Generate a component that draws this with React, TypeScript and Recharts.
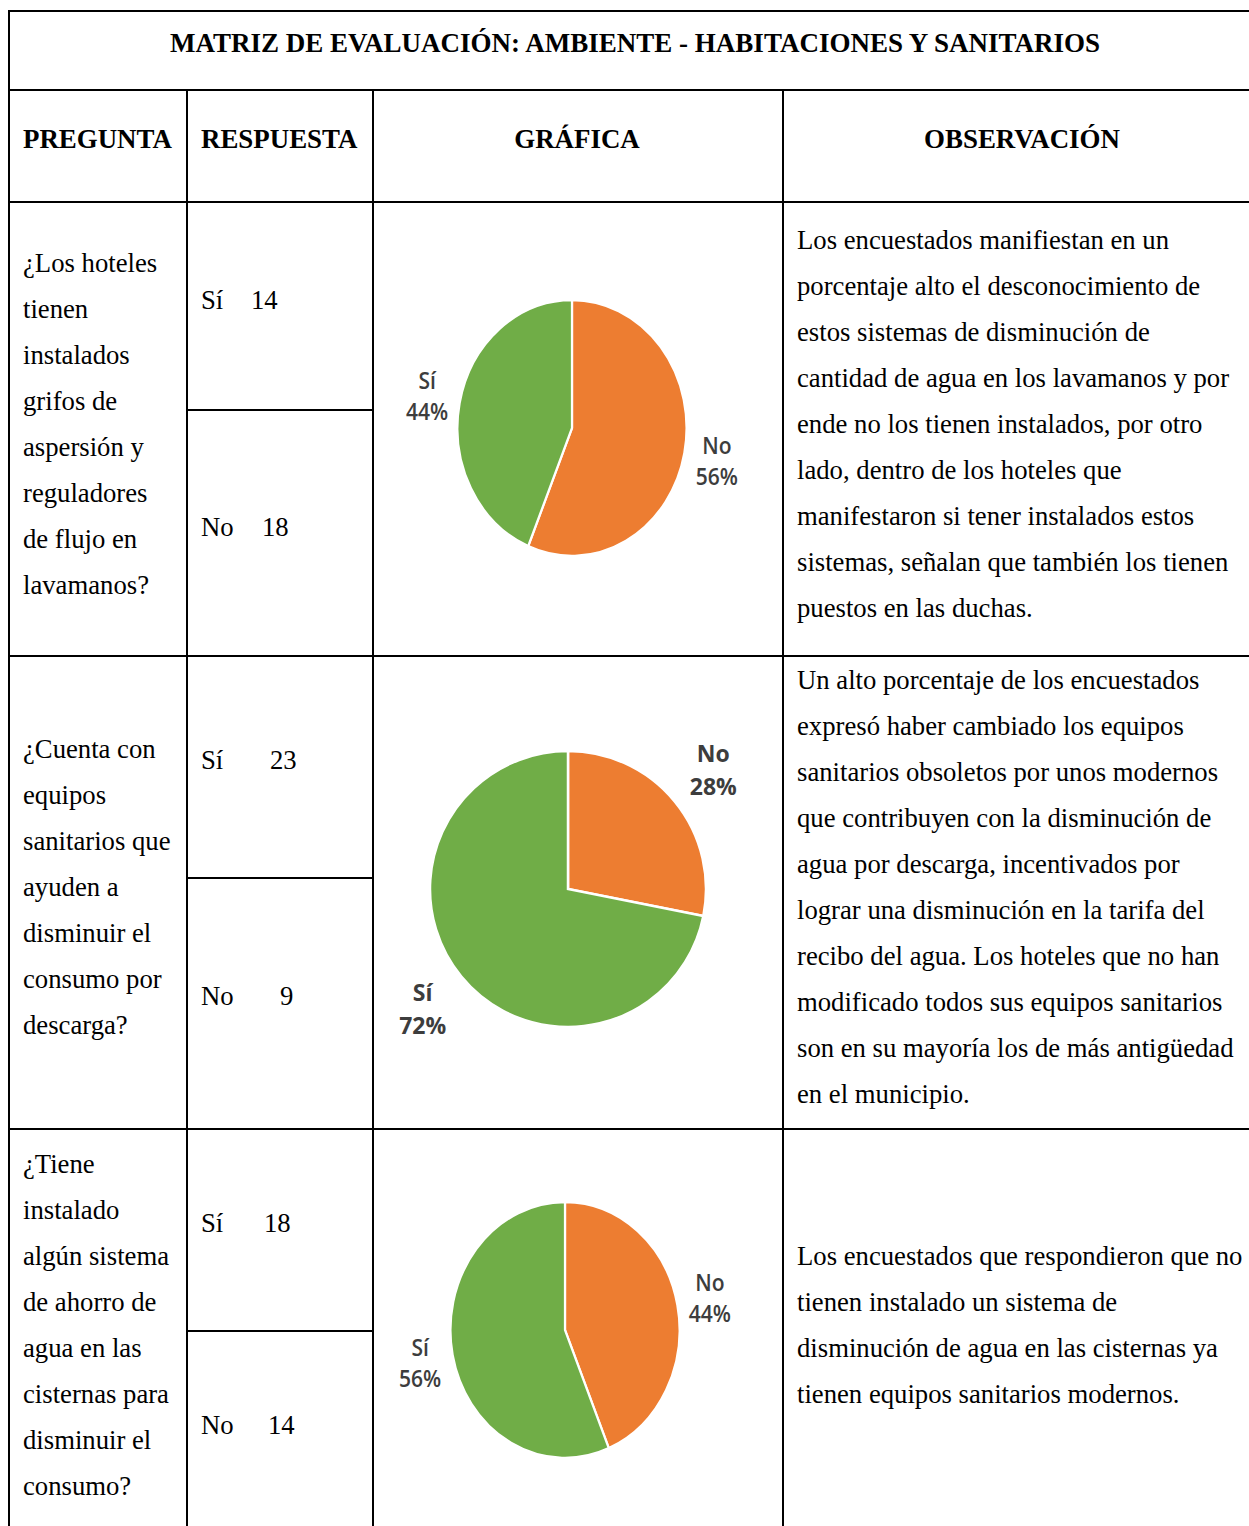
import React from "react";
import { PieChart, Pie, Cell } from "recharts";

// answers, in the order the slices are drawn (clockwise from 12 o'clock)
const answers = ["No", "Sí"];
const aguaLavamanos = [18, 14];
const equiposSanitarios = [9, 23];
const ahorroCisternas = [14, 18];
const sliceColors = ["#ED7D31", "#70AD47"];

const SERIF = '"Liberation Serif", "Times New Roman", serif';
const LABEL_FONT = '"Open Sans", "Noto Sans", sans-serif';
const LINE = 46;
const RADIAN = Math.PI / 180;

const toRows = (values: number[]) => {
  const total = values.reduce((s, v) => s + v, 0);
  return answers.map((name, i) => ({ name, value: values[i], pct: Math.round((values[i] / total) * 100) }));
};

interface LabelStyle {
  gap: number;
  fontSize: number;
  weight: number;
  spacing: number;
}

const makeLabel = (style: LabelStyle) => (props: any) => {
  const { cx, cy, midAngle, outerRadius, payload } = props;
  const r = outerRadius + style.gap;
  const x = cx + r * Math.cos(-midAngle * RADIAN);
  const y = cy + r * Math.sin(-midAngle * RADIAN);
  const common = {
    x,
    textAnchor: "middle" as const,
    dominantBaseline: "central" as const,
    fill: "#3d3d3d",
    fontSize: style.fontSize,
    fontFamily: LABEL_FONT,
    fontWeight: style.weight,
  };
  return (
    <g>
      <text {...common} y={y - style.spacing / 2}>{payload.name}</text>
      <text {...common} y={y + style.spacing / 2}>{`${payload.pct}%`}</text>
    </g>
  );
};

interface PieBoxProps {
  values: number[];
  cx: number;
  cy: number;
  radius: number;
  scaleX: number;
  label: LabelStyle;
}

function PieBox({ values, cx, cy, radius, scaleX, label }: PieBoxProps) {
  const w = 420;
  const h = 360;
  const rows = toRows(values);
  return (
    <div
      style={{
        position: "absolute",
        left: cx - w / 2,
        top: cy - h / 2,
        width: w,
        height: h,
        transform: `scaleX(${scaleX})`,
        transformOrigin: "center center",
      }}
    >
      <PieChart width={w} height={h} margin={{ top: 0, right: 0, bottom: 0, left: 0 }}>
        <Pie
          data={rows}
          dataKey="value"
          nameKey="name"
          cx="50%"
          cy="50%"
          outerRadius={radius}
          startAngle={90}
          endAngle={-270}
          stroke="#ffffff"
          strokeWidth={2.5}
          labelLine={false}
          label={makeLabel(label)}
          isAnimationActive={false}
        >
          {rows.map((r, i) => (
            <Cell key={r.name} fill={sliceColors[i]} />
          ))}
        </Pie>
      </PieChart>
    </div>
  );
}

function HLine({ y, x1, x2 }: { y: number; x1: number; x2: number }) {
  return <div style={{ position: "absolute", left: x1, top: y, width: x2 - x1, height: 2, background: "#000" }} />;
}

function VLine({ x, y1, y2 }: { x: number; y1: number; y2: number }) {
  return <div style={{ position: "absolute", left: x, top: y1, width: 2, height: y2 - y1, background: "#000" }} />;
}

interface LinesProps {
  x: number;
  y: number;
  lines: string[];
  bold?: boolean;
  width?: number;
  center?: boolean;
  size?: number;
}

function Lines({ x, y, lines, bold, width, center, size = 26.7 }: LinesProps) {
  return (
    <div
      style={{
        position: "absolute",
        left: x,
        top: y - LINE / 2,
        width: width,
        fontFamily: SERIF,
        fontSize: size,
        lineHeight: `${LINE}px`,
        fontWeight: bold ? 700 : 400,
        color: "#000",
        whiteSpace: "nowrap",
        textAlign: center ? "center" : "left",
      }}
    >
      {lines.map((l, i) => (
        <div key={i}>{l}</div>
      ))}
    </div>
  );
}

function Answer({ y, name, value, numX }: { y: number; name: string; value: number; numX: number }) {
  return (
    <>
      <Lines x={201} y={y} lines={[name]} />
      <Lines x={numX} y={y} lines={[String(value)]} />
    </>
  );
}

const Q1 = ["¿Los hoteles", "tienen", "instalados", "grifos de", "aspersión y", "reguladores", "de flujo en", "lavamanos?"];
const Q2 = ["¿Cuenta con", "equipos", "sanitarios que", "ayuden a", "disminuir el", "consumo por", "descarga?"];
const Q3 = ["¿Tiene", "instalado", "algún sistema", "de ahorro de", "agua en las", "cisternas para", "disminuir el", "consumo?"];

const O1 = [
  "Los encuestados manifiestan en un",
  "porcentaje alto el desconocimiento de",
  "estos sistemas de disminución de",
  "cantidad de agua en los lavamanos y por",
  "ende no los tienen instalados, por otro",
  "lado, dentro de los hoteles que",
  "manifestaron si tener instalados estos",
  "sistemas, señalan que también los tienen",
  "puestos en las duchas.",
];
const O2 = [
  "Un alto porcentaje de los encuestados",
  "expresó haber cambiado los equipos",
  "sanitarios obsoletos por unos modernos",
  "que contribuyen con la disminución de",
  "agua por descarga, incentivados por",
  "lograr una disminución en la tarifa del",
  "recibo del agua. Los hoteles que no han",
  "modificado todos sus equipos sanitarios",
  "son en su mayoría los de más antigüedad",
  "en el municipio.",
];
const O3 = [
  "Los encuestados que respondieron que no",
  "tienen instalado un sistema de",
  "disminución de agua en las cisternas ya",
  "tienen equipos sanitarios modernos.",
];

export default function App() {
  const R = 1262;
  const B = 1526;
  const plain: LabelStyle = { gap: 37, fontSize: 23.5, weight: 600, spacing: 31 };
  const strong: LabelStyle = { gap: 50, fontSize: 23, weight: 700, spacing: 33 };
  return (
    <div style={{ position: "absolute", left: 0, top: 0, width: 1249, height: 1526, overflow: "hidden", background: "#fff" }}>
      <PieBox values={aguaLavamanos} cx={572} cy={428} radius={128} scaleX={0.895} label={plain} />
      <PieBox values={equiposSanitarios} cx={568} cy={889} radius={138} scaleX={1} label={strong} />
      <PieBox values={ahorroCisternas} cx={565} cy={1330} radius={128} scaleX={0.895} label={plain} />

      {/* grid lines */}
      <HLine y={10} x1={8} x2={R} />
      <HLine y={89} x1={8} x2={R} />
      <HLine y={201} x1={8} x2={R} />
      <HLine y={655} x1={8} x2={R} />
      <HLine y={1128} x1={8} x2={R} />
      <HLine y={409} x1={186} x2={373} />
      <HLine y={877} x1={186} x2={373} />
      <HLine y={1330} x1={186} x2={373} />
      <VLine x={8} y1={10} y2={B} />
      <VLine x={186} y1={89} y2={B} />
      <VLine x={372} y1={89} y2={B} />
      <VLine x={782} y1={89} y2={B} />

      <Lines x={8} width={R - 8} y={43} bold center size={27} lines={["MATRIZ DE EVALUACIÓN: AMBIENTE - HABITACIONES Y SANITARIOS"]} />
      <Lines x={23} y={139} bold size={26.9} lines={["PREGUNTA"]} />
      <Lines x={201} y={139} bold size={26.9} lines={["RESPUESTA"]} />
      <Lines x={372} width={410} y={139} bold center size={26.9} lines={["GRÁFICA"]} />
      <Lines x={782} width={R - 782} y={139} bold center size={26.9} lines={["OBSERVACIÓN"]} />

      <Lines x={23} y={263} lines={Q1} />
      <Lines x={23} y={749} lines={Q2} />
      <Lines x={23} y={1164} lines={Q3} />

      <Answer y={300} name="Sí" value={aguaLavamanos[1]} numX={251} />
      <Answer y={527} name="No" value={aguaLavamanos[0]} numX={262} />
      <Answer y={760} name="Sí" value={equiposSanitarios[1]} numX={270} />
      <Answer y={996} name="No" value={equiposSanitarios[0]} numX={280} />
      <Answer y={1223} name="Sí" value={ahorroCisternas[1]} numX={264} />
      <Answer y={1425} name="No" value={ahorroCisternas[0]} numX={268} />

      <Lines x={797} y={240} lines={O1} />
      <Lines x={797} y={680} lines={O2} />
      <Lines x={797} y={1256} lines={O3} />
    </div>
  );
}
